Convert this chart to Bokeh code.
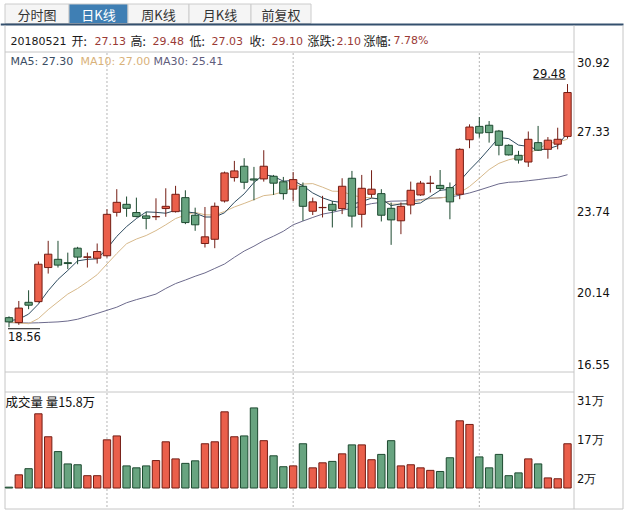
from bokeh.plotting import figure
from bokeh.models import Range1d
from bokeh.embed import file_html
from bokeh.resources import INLINE
from bokeh.core.properties import value

# ---------------- data ----------------
date_label = "20180521"
tab_labels = ["分时图", "日K线", "周K线", "月K线", "前复权"]
selected_tab = 1

opens = [18.99, 18.77, 19.68, 19.71, 21.24, 21.61, 21.46, 22.11, 21.70, 21.66,
         21.77, 23.72, 24.08, 23.71, 23.56, 23.52, 23.89, 23.75, 24.38, 23.59,
         22.32, 22.51, 24.23, 25.28, 25.79, 25.22, 25.22, 25.34, 25.09, 24.76,
         24.89, 23.77, 23.93, 24.08, 23.89, 25.25, 23.63, 24.53, 24.56, 23.90,
         23.34, 24.05, 24.50, 25.02, 24.93, 24.83, 24.53, 26.98, 27.58, 27.63,
         27.37, 26.73, 26.28, 25.98, 26.85, 26.55, 26.78, 27.13]
closes = [18.80, 19.42, 19.55, 21.39, 21.84, 21.35, 21.42, 21.71, 21.72, 21.96,
          23.63, 24.17, 23.90, 23.53, 23.45, 23.53, 23.99, 24.53, 23.26, 23.16,
          22.62, 23.99, 25.49, 25.58, 25.07, 25.17, 25.79, 25.03, 24.56, 25.19,
          23.99, 24.19, 23.94, 23.81, 24.89, 23.55, 24.80, 24.76, 23.59, 23.38,
          23.99, 24.71, 25.03, 25.03, 24.79, 24.19, 26.55, 27.55, 27.28, 27.30,
          26.73, 26.30, 26.07, 27.00, 26.51, 26.96, 27.00, 29.10]
highs = [19.05, 19.74, 20.22, 21.51, 22.44, 22.44, 21.91, 22.17, 21.91, 22.32,
         23.86, 24.76, 24.43, 24.38, 23.74, 24.35, 24.80, 24.91, 24.71, 23.93,
         23.96, 24.16, 25.55, 26.03, 26.15, 25.76, 26.51, 25.40, 25.31, 25.53,
         25.06, 24.38, 24.46, 24.23, 25.25, 25.58, 25.40, 25.61, 24.76, 24.16,
         24.16, 25.10, 25.13, 25.36, 25.62, 25.06, 26.60, 27.67, 28.00, 27.82,
         27.42, 26.78, 26.48, 27.35, 27.60, 27.10, 27.52, 29.48]
lows = [18.56, 18.67, 19.37, 19.67, 20.97, 21.24, 21.17, 21.39, 21.24, 21.42,
        21.69, 23.53, 23.52, 23.49, 22.96, 23.37, 23.52, 23.71, 23.19, 22.89,
        22.14, 22.11, 24.16, 25.10, 24.76, 24.26, 25.10, 24.50, 24.29, 24.23,
        23.34, 23.60, 23.49, 23.04, 23.64, 23.04, 23.04, 24.38, 23.31, 22.26,
        22.74, 23.63, 24.46, 24.61, 24.68, 23.41, 24.31, 26.60, 27.08, 26.85,
        26.28, 26.27, 25.91, 25.76, 26.48, 26.13, 26.55, 27.03]
volumes = [0.3, 4.7, 6.9, 26.5, 18.3, 13.0, 8.6, 8.3, 4.4, 4.4,
           17.2, 18.6, 7.9, 7.2, 7.9, 9.8, 16.5, 10.4, 8.8, 9.7,
           15.8, 16.5, 27.2, 18.3, 18.6, 28.6, 16.9, 11.5, 7.6, 7.9,
           15.8, 7.2, 9.0, 9.5, 12.2, 15.4, 15.4, 10.1, 12.0, 16.9,
           7.9, 8.3, 7.2, 6.3, 5.9, 10.8, 24.0, 22.7, 11.1, 7.2,
           12.0, 4.4, 5.4, 10.4, 8.6, 3.6, 3.3, 15.8]   # 万
ma5 = [18.85, 18.92, 19.15, 19.60, 20.20, 20.71, 21.11, 21.54, 21.61, 21.63,
       22.09, 22.64, 23.08, 23.44, 23.74, 23.72, 23.68, 23.81, 23.75, 23.69,
       23.51, 23.51, 23.70, 24.17, 24.55, 25.06, 25.42, 25.33, 25.12, 25.15,
       24.91, 24.59, 24.37, 24.22, 24.16, 24.08, 24.20, 24.36, 24.32, 24.02,
       24.10, 24.09, 24.14, 24.43, 24.71, 24.75, 25.12, 25.62, 26.07, 26.57,
       27.08, 27.03, 26.74, 26.68, 26.52, 26.57, 26.71, 27.30]
ma10 = [18.80, 18.75, 18.72, 18.95, 19.35, 19.70, 20.05, 20.30, 20.60, 20.92,
        21.40, 21.87, 22.31, 22.52, 22.68, 22.90, 23.16, 23.44, 23.60, 23.72,
        23.61, 23.60, 23.76, 23.96, 24.12, 24.29, 24.47, 24.52, 24.65, 24.85,
        24.99, 25.01, 24.85, 24.67, 24.66, 24.49, 24.40, 24.37, 24.27, 24.09,
        24.09, 24.14, 24.25, 24.37, 24.36, 24.43, 24.60, 24.88, 25.25, 25.64,
        25.92, 26.08, 26.18, 26.38, 26.55, 26.83, 26.87, 27.00]
ma30 = [18.77, 18.76, 18.75, 18.76, 18.78, 18.80, 18.84, 18.92, 19.05, 19.18,
        19.32, 19.46, 19.66, 19.80, 19.92, 20.05, 20.30, 20.52, 20.68, 20.85,
        21.00, 21.20, 21.40, 21.70, 21.98, 22.20, 22.45, 22.65, 22.87, 23.16,
        23.33, 23.49, 23.64, 23.72, 23.82, 23.89, 24.01, 24.11, 24.17, 24.22,
        24.23, 24.25, 24.29, 24.34, 24.38, 24.40, 24.49, 24.59, 24.72, 24.86,
        25.00, 25.07, 25.09, 25.14, 25.19, 25.25, 25.29, 25.41]
price_ticks = [16.55, 20.14, 23.74, 27.33, 30.92]
vol_ticks = [2, 17, 31]
grid_days = [10, 29, 48]

n = len(closes)
idx = list(range(n))

# ---------------- layout (canvas pixels) ----------------
W, H = 625, 511
LEFT, AXIS_X, RIGHT = 4.5, 573.5, 622.5
TAB_TOP, TAB_H = 3.5, 23
MAIN_TOP, MAIN_BOT = 51.5, 371.5
VOL_TOP, BOTTOM = 391.5, 508.5
VOL_BASE, VOL_K = 487.5, 2.8
C0, CN = 8.5, 567.0

sp = (CN - C0) / (n - 1)
xs = -C0 / sp
xe = xs + W / sp
ppx = (price_ticks[-1] - price_ticks[0]) / (MAIN_BOT - MAIN_TOP)
ye = price_ticks[-1] + MAIN_TOP * ppx
ys = price_ticks[0] - (H - MAIN_BOT) * ppx

p = figure(width=W, height=H, x_range=Range1d(xs, xe), y_range=Range1d(ys, ye),
           output_backend="svg", toolbar_location=None,
           x_axis_location=None, y_axis_location=None, min_border=0,
           outline_line_color=None, background_fill_color="white",
           border_fill_color="white")
p.extra_x_ranges = {"px": Range1d(0, W)}
p.extra_y_ranges = {"px": Range1d(H, 0),
                    "vol": Range1d(-(H - VOL_BASE) / VOL_K, VOL_BASE / VOL_K)}
p.xgrid.grid_line_color = None
p.ygrid.grid_line_color = None

PX = dict(x_range_name="px", y_range_name="px")
LAT = value("DejaVu Sans")
CJK = value("Noto Sans CJK SC")
BORDER = "#c6c6c6"

# ---------------- tabs ----------------
tab_edges = [4.5, 68.5, 127.5, 188.5, 250.5, 310.5]
tab_fill = ["#3f7fb4" if i == selected_tab else "#f5f5f5" for i in range(len(tab_labels))]
tab_txt = ["white" if i == selected_tab else "#333333" for i in range(len(tab_labels))]
p.quad(left=tab_edges[:-1], right=tab_edges[1:], top=TAB_TOP, bottom=TAB_H,
       fill_color=tab_fill, line_color="#cccccc", **PX)
p.text(x=[(a + b) / 2 for a, b in zip(tab_edges[:-1], tab_edges[1:])], y=(TAB_TOP + TAB_H) / 2 + 1,
       text=tab_labels, text_color=tab_txt, text_align="center", text_baseline="middle",
       text_font=CJK, text_font_size="13px", **PX)
p.segment(x0=0, x1=RIGHT + 0.5, y0=TAB_H + 1, y1=TAB_H + 1, line_color="#34506e", line_width=2, **PX)

# ---------------- frame lines ----------------
for xv in (LEFT, AXIS_X, RIGHT):
    p.segment(x0=xv, x1=xv, y0=TAB_H + 2, y1=BOTTOM, line_color=BORDER, **PX)
for yv in (MAIN_TOP, MAIN_BOT, VOL_TOP):
    p.segment(x0=LEFT, x1=AXIS_X, y0=yv, y1=yv, line_color=BORDER, **PX)
p.segment(x0=LEFT, x1=RIGHT, y0=BOTTOM, y1=BOTTOM, line_color=BORDER, **PX)

# vertical dashed grid lines
p.segment(x0=grid_days, x1=grid_days, y0=MAIN_TOP + 1, y1=BOTTOM - 1,
          y_range_name="px", line_color="#b5b5b5", line_dash="2 2")

# ---------------- header ----------------
last = n - 1
chg = closes[last] - closes[last - 1]
pct = chg / closes[last - 1] * 100
HDR_Y = 40
VALC = "#9a3a36"
hdr_text = [date_label, "开:", f"{opens[last]:.2f}", "高:", f"{highs[last]:.2f}",
            "低:", f"{lows[last]:.2f}", "收:", f"{closes[last]:.2f}",
            "涨跌:", f"{chg:.2f}", "涨幅:", f"{pct:.2f}%"]
hdr_x = [10, 71, 94, 130, 152, 189, 211, 249, 271, 307, 336, 363, 393]
for t, xv in zip(hdr_text, hdr_x):
    is_cjk = any(ord(ch) > 0x2e80 for ch in t)
    is_val = (not is_cjk) and t != date_label
    p.text(x=[xv], y=[HDR_Y], text=[t], text_color=VALC if is_val else "#1a1a1a",
           text_align="left", text_baseline="middle",
           text_font=CJK if is_cjk else LAT,
           text_font_size="12px" if is_cjk else "11px", **PX)

# MA legend
ma_cols = ["#2f4c60", "#d7b98b", "#6c6a8c"]
ma_txt_cols = ["#3b4d63", "#d9b27a", "#5f5d7c"]
leg_text = [f"MA5: {ma5[-1]:.2f}", f"MA10: {ma10[-1]:.2f}", f"MA30: {ma30[-1]:.2f}"]
p.text(x=[10, 80, 153], y=MAIN_TOP + 9, text=leg_text, text_color=ma_txt_cols,
       text_align="left", text_baseline="middle", text_font=LAT,
       text_font_size="11px", **PX)

# ---------------- MA lines ----------------
for arr, col in zip((ma30, ma10, ma5), (ma_cols[2], ma_cols[1], ma_cols[0])):
    p.line(idx, arr, line_color=col, line_width=1)

# ---------------- candles ----------------
UP_FILL, UP_LINE = "#ea5f4b", "#741d14"
DN_FILL, DN_LINE = "#68a480", "#1d4a30"
up = [c >= o for o, c in zip(opens, closes)]
fills = [UP_FILL if u else DN_FILL for u in up]
lines_c = [UP_LINE if u else DN_LINE for u in up]
p.segment(x0=idx, x1=idx, y0=highs, y1=lows, line_color=lines_c, line_width=1)
p.vbar(x=idx, top=[max(o, c) for o, c in zip(opens, closes)],
       bottom=[min(o, c) for o, c in zip(opens, closes)], width=0.75,
       fill_color=fills, line_color=lines_c, line_width=1)

# high / low markers
hi_i = max(idx, key=lambda i: highs[i])
lo_i = min(idx, key=lambda i: lows[i])
p.segment(x0=hi_i - 34 / sp, x1=hi_i - 2 / sp, y0=highs[hi_i] + 5 * ppx,
          y1=highs[hi_i] + 5 * ppx, line_color="#111111")
p.text(x=[hi_i], y=[highs[hi_i]], text=[f"{highs[hi_i]:.2f}"], x_offset=-2, y_offset=-6,
       text_align="right", text_baseline="bottom", text_color="#111111",
       text_font=LAT, text_font_size="11.5px")
p.segment(x0=lo_i - 1 / sp, x1=lo_i + 31 / sp, y0=lows[lo_i] - 1.5 * ppx,
          y1=lows[lo_i] - 1.5 * ppx, line_color="#111111")
p.text(x=[lo_i], y=[lows[lo_i]], text=[f"{lows[lo_i]:.2f}"], x_offset=-1, y_offset=9,
       text_align="left", text_baseline="middle", text_color="#111111",
       text_font=LAT, text_font_size="11.5px")

# price axis labels
pt_off = [-8 if v == price_ticks[0] else (10 if v == price_ticks[-1] else 0) for v in price_ticks]
p.text(x=AXIS_X + 3, y=price_ticks, text=[f"{v:.2f}" for v in price_ticks], y_offset=pt_off,
       x_range_name="px", text_align="left", text_baseline="middle",
       text_color="#111111", text_font=LAT, text_font_size="11.5px")

# ---------------- volume ----------------
p.vbar(x=idx, top=volumes, bottom=0, width=0.75, y_range_name="vol",
       fill_color=fills, line_color=lines_c, line_width=1)
p.text(x=[LEFT + 0.5], y=[VOL_TOP + 9], text=[f"成交量 量{volumes[-1]:.1f}万"],
       text_align="left", text_baseline="middle", text_color="#111111",
       text_font=CJK, text_font_size="12.5px", **PX)
vt_off = [-3 if v == vol_ticks[0] else 0 for v in vol_ticks]
p.text(x=AXIS_X + 3, y=vol_ticks, text=[f"{v}万" for v in vol_ticks], y_offset=vt_off,
       x_range_name="px", y_range_name="vol", text_align="left", text_baseline="middle",
       text_color="#111111", text_font=LAT, text_font_size="11.5px")

open("out.html", "w").write(file_html(p, INLINE))
